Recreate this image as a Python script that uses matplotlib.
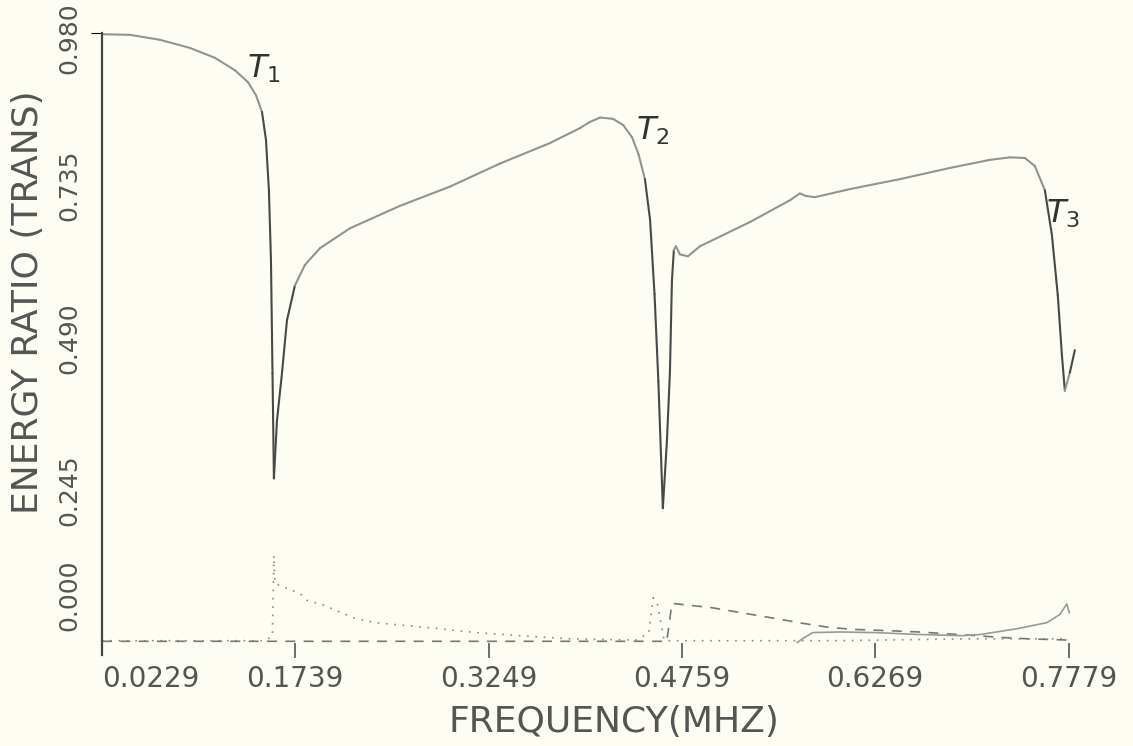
import numpy as np
import matplotlib.pyplot as plt
from matplotlib.collections import LineCollection
from matplotlib.transforms import ScaledTranslation

plt.rcParams['font.family'] = 'DejaVu Sans'
plt.rcParams['mathtext.fontset'] = 'dejavusans'

freq_ticks = [0.0229, 0.1739, 0.3249, 0.4759, 0.6269, 0.7779]
freq_labels = ['0.0229', '0.1739', '0.3249', '0.4759', '0.6269', '0.7779']
ratio_ticks = [0.000, 0.245, 0.490, 0.735, 0.980]
ratio_labels = ['0.000', '0.245', '0.490', '0.735', '0.980']

# transmitted energy ratio, dips T1, T2, T3
trans_f = [0.0229, 0.0448, 0.0682, 0.0916, 0.1112, 0.1268, 0.1369, 0.1432, 0.1479,
           0.1510, 0.1533, 0.1549, 0.1561, 0.1572, 0.1596, 0.1635, 0.1674, 0.1736,
           0.1814, 0.1932, 0.2166, 0.2556, 0.2947, 0.3337, 0.3728, 0.3962, 0.4040,
           0.4120, 0.4220, 0.4300, 0.4370, 0.4420, 0.4470, 0.4510, 0.4545, 0.4575,
           0.4610, 0.4642, 0.4665, 0.4681, 0.4696, 0.4712, 0.4743, 0.4806, 0.4899,
           0.5290, 0.5602, 0.5680, 0.5727, 0.5798, 0.6071, 0.6461, 0.6852, 0.7164,
           0.7320, 0.7438, 0.7516, 0.7594, 0.7649, 0.7695, 0.7727, 0.7750, 0.7789,
           0.7828]
trans_e = [0.978, 0.977, 0.969, 0.956, 0.940, 0.920, 0.901, 0.880, 0.853,
           0.808, 0.727, 0.615, 0.433, 0.264, 0.357, 0.433, 0.518, 0.574,
           0.607, 0.634, 0.666, 0.702, 0.733, 0.770, 0.803, 0.827, 0.837,
           0.844, 0.842, 0.832, 0.812, 0.785, 0.745, 0.680, 0.560, 0.420,
           0.216, 0.325, 0.433, 0.582, 0.631, 0.637, 0.624, 0.621, 0.637,
           0.676, 0.711, 0.722, 0.718, 0.716, 0.729, 0.745, 0.763, 0.776,
           0.780, 0.779, 0.766, 0.727, 0.655, 0.558, 0.462, 0.405, 0.434,
           0.470]

# dotted curve (peak at T1)
dot_f = [0.0229, 0.1500, 0.1560, 0.1572, 0.1580, 0.1775, 0.1830, 0.1960, 0.2205,
         0.2360, 0.2830, 0.3150, 0.3490, 0.3880, 0.4400, 0.4500, 0.4535, 0.4570,
         0.4620, 0.5000, 0.6000, 0.7000, 0.7779]
dot_e = [0.003, 0.003, 0.010, 0.140, 0.095, 0.079, 0.068, 0.060, 0.039,
         0.032, 0.023, 0.016, 0.011, 0.006, 0.004, 0.015, 0.072, 0.060,
         0.003, 0.003, 0.003, 0.006, 0.006]

# dashed curve (peak at T2)
dash_f = [0.0229, 0.4640, 0.4660, 0.4680, 0.4993, 0.5220, 0.5480, 0.5700, 0.5920,
          0.6120, 0.6380, 0.6610, 0.6840, 0.7060, 0.7270, 0.7460, 0.7779]
dash_e = [0.002, 0.002, 0.030, 0.063, 0.056, 0.048, 0.039, 0.031, 0.024,
          0.021, 0.019, 0.017, 0.014, 0.011, 0.008, 0.006, 0.004]

# faint solid curve (rise at T3)
sol_f = [0.566, 0.570, 0.578, 0.600, 0.627, 0.660, 0.695, 0.709, 0.737,
         0.761, 0.771, 0.7765, 0.7785]
sol_e = [0.000, 0.006, 0.016, 0.017, 0.016, 0.013, 0.011, 0.013, 0.022,
         0.032, 0.045, 0.062, 0.048]

bg = '#fdfdf3'
fig = plt.figure(figsize=(11.33, 7.46), dpi=100, facecolor=bg)
ax = fig.add_axes([0.090, 0.122, 0.8668, 0.8338])
ax.set_facecolor(bg)

# steep parts of the scan trace come out darker
pts = np.column_stack([trans_f, trans_e])
segs = np.stack([pts[:-1], pts[1:]], axis=1)
slope = np.abs(np.diff(trans_e) / np.diff(trans_f))
seg_colors = np.where(slope > 8, '#484848', '#939393')
ax.add_collection(LineCollection(segs, colors=seg_colors, linewidths=1.5,
                                 capstyle='round', joinstyle='round', clip_on=False))

ax.plot(dot_f, dot_e, color='#8a8a8a', lw=1.2, ls=(0, (1, 4)), clip_on=False)
ax.plot(dash_f, dash_e, color='#777777', lw=1.2, ls=(0, (6, 5)), clip_on=False)
ax.plot(sol_f, sol_e, color='#9a9a9a', lw=1.2, clip_on=False)

ax.set_xlim(0.0229, 0.79)
ax.set_ylim(-0.02, 0.98)

ax.spines['bottom'].set_position(('data', 0))
for s in ['top', 'right', 'bottom']:
    ax.spines[s].set_visible(False)
ax.spines['left'].set_color('#444444')
ax.spines['left'].set_linewidth(1.6)

ax.set_xticks(freq_ticks)
ax.set_xticklabels(freq_labels, fontsize=20, color='#555555')
ax.tick_params(axis='x', direction='out', length=11, width=1.2, color='#555555', pad=5)
ax.get_xticklabels()[0].set_ha('left')
ax.xaxis.get_major_ticks()[0].tick1line.set_visible(False)

ax.set_yticks(ratio_ticks)
ax.set_yticklabels(ratio_labels, fontsize=18, color='#555555', rotation=90, va='center')
ax.tick_params(axis='y', direction='out', length=0, pad=15)
ylabs = ax.get_yticklabels()
ylabs[0].set_va('bottom')
ylabs[0].set_transform(ylabs[0].get_transform() + ScaledTranslation(0, 0.12, fig.dpi_scale_trans))
ylabs[-1].set_transform(ylabs[-1].get_transform() + ScaledTranslation(0, -0.05, fig.dpi_scale_trans))
top_tick = ax.yaxis.get_major_ticks()[-1]
top_tick.tick1line.set_markersize(8)
top_tick.tick1line.set_color('#999999')

ax.set_xlabel('FREQUENCY(MHZ)', fontsize=26, color='#555555')
ax.xaxis.set_label_coords(0.521, -0.080)
ax.set_ylabel('ENERGY RATIO (TRANS)', fontsize=26, color='#555555')
ax.yaxis.set_label_coords(-0.058, 0.567)

ax.text(0.136, 0.922, r'$T_1$', fontsize=23, color='#333333', va='center', ha='left')
ax.text(0.4400, 0.822, r'$T_2$', fontsize=23, color='#333333', va='center', ha='left')
ax.text(0.7600, 0.690, r'$T_3$', fontsize=23, color='#333333', va='center', ha='left')

fig.savefig('out.png', dpi=100, facecolor=fig.get_facecolor())
